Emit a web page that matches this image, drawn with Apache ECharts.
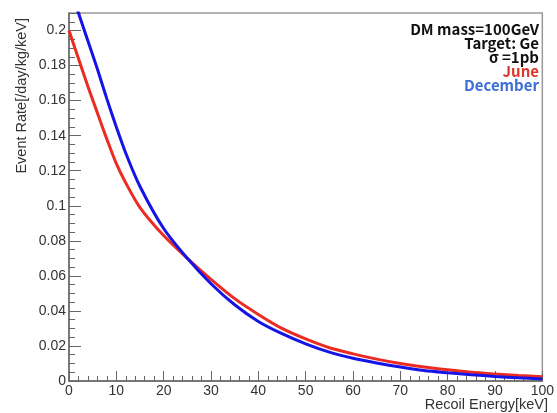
<!DOCTYPE html>
<html>
<head>
<meta charset="utf-8">
<script src="https://cdn.jsdelivr.net/npm/echarts@6/dist/echarts.min.js"></script>
<style>
  html, body { margin: 0; padding: 0; background: #fff; }
  #chart { width: 557px; height: 413px; }
</style>
</head>
<body>
<div id="chart"></div>
<script>
// recoil energy [keV]
var energy = [0, 2, 4, 6, 8, 10, 12, 15, 20, 25, 30, 35, 40, 45, 50, 55, 60, 65, 70, 75, 80, 85, 90, 95, 100]
// event rate, June
var june = [0.200, 0.184, 0.168, 0.153, 0.138, 0.124, 0.113, 0.099, 0.083, 0.070, 0.058, 0.047, 0.038, 0.030, 0.024, 0.019, 0.0155, 0.0125, 0.010, 0.008, 0.0064, 0.005, 0.004, 0.0031, 0.0024]
// event rate, December
var december = [0.226, 0.210, 0.194, 0.178, 0.161, 0.145, 0.130, 0.111, 0.087, 0.070, 0.0555, 0.0435, 0.034, 0.027, 0.0212, 0.0165, 0.013, 0.0103, 0.008, 0.006, 0.0047, 0.0036, 0.0026, 0.0018, 0.0012]
var infoLines = ['DM mass=100GeV', 'Target: Ge', 'σ =1pb']

function pairs (ys) {
  return energy.map(function (e, i) { return [e, ys[i]] })
}

var chart = echarts.init(document.getElementById('chart'))
var labelFont = '"Liberation Sans", Arial, sans-serif'
var boldFont = '"Noto Sans CJK JP", "Noto Sans", sans-serif'
var axisColor = '#666'

// info box text, one line each, right aligned
var infoText = infoLines.map(function (t, i) {
  return {
    type: 'text', x: 539, y: 29 + i * 14,
    style: { text: t, fill: '#111', fontSize: 15, fontWeight: 'bold', fontFamily: boldFont, align: 'right', verticalAlign: 'middle' }
  }
})

var option = {
  animation: false,
  grid: {
    left: 69, top: 13, right: 9, bottom: 32,
    show: true, borderColor: '#999', borderWidth: 1.5
  },
  xAxis: {
    type: 'value', min: 0, max: 100, interval: 10,
    axisLine: { lineStyle: { color: axisColor, width: 1.5 } },
    axisTick: { inside: true, length: 10, lineStyle: { color: axisColor } },
    minorTick: { show: true, splitNumber: 5, length: 5, lineStyle: { color: axisColor } },
    splitLine: { show: false },
    axisLabel: { color: '#333', fontSize: 14, fontFamily: labelFont, margin: 3 }
  },
  yAxis: {
    type: 'value', min: 0, max: 0.21, interval: 0.02,
    axisLine: { lineStyle: { color: axisColor, width: 1.5 } },
    axisTick: { inside: true, length: 12, lineStyle: { color: axisColor } },
    minorTick: { show: true, splitNumber: 4, length: 6, lineStyle: { color: axisColor } },
    splitLine: { show: false },
    axisLabel: { color: '#333', fontSize: 14, fontFamily: labelFont, margin: 3, showMaxLabel: false }
  },
  graphic: infoText.concat([
    {
      type: 'text', x: 22, y: 18, rotation: Math.PI / 2,
      style: { text: 'Event Rate[/day/kg/keV]', fill: '#333', fontSize: 14.5, fontFamily: labelFont, align: 'right', verticalAlign: 'middle' }
    },
    {
      type: 'text', x: 548, y: 405,
      style: { text: 'Recoil Energy[keV]', fill: '#333', fontSize: 14.5, fontFamily: labelFont, align: 'right', verticalAlign: 'middle' }
    },
    {
      type: 'text', x: 539, y: 71,
      style: { text: 'June', fill: '#e0352b', fontSize: 15, fontWeight: 'bold', fontFamily: boldFont, align: 'right', verticalAlign: 'middle' }
    },
    {
      type: 'text', x: 539, y: 85,
      style: { text: 'December', fill: '#3b6fd6', fontSize: 15, fontWeight: 'bold', fontFamily: boldFont, align: 'right', verticalAlign: 'middle' }
    }
  ]),
  series: [
    {
      name: 'June', type: 'line', data: pairs(june), smooth: 0.3,
      showSymbol: false, clip: true, lineStyle: { color: '#ec2b23', width: 3 }
    },
    {
      name: 'December', type: 'line', data: pairs(december), smooth: 0.3,
      showSymbol: false, clip: true, lineStyle: { color: '#1414e6', width: 3 }
    }
  ]
}
chart.setOption(option)
</script>
</body>
</html>
